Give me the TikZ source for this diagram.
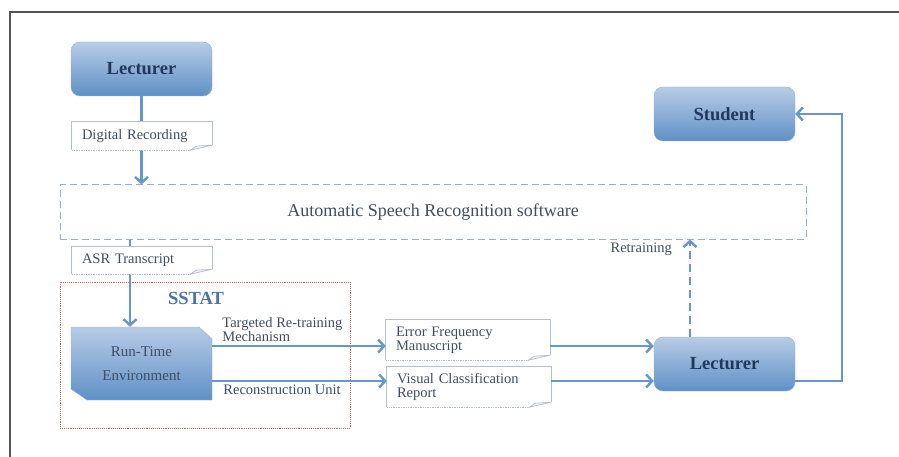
\documentclass[tikz,border=0pt]{standalone}
\usepackage{fontspec}
\setmainfont{Liberation Serif}
\usetikzlibrary{arrows.meta}
\definecolor{linkblue}{HTML}{6696CC}
\definecolor{boxtop}{HTML}{B8CCE6}
\definecolor{boxbot}{HTML}{5F90C6}
\definecolor{boxedge}{HTML}{8FB0D8}
\definecolor{labelgray}{HTML}{3F4D62}
\definecolor{navy}{HTML}{22385A}
\definecolor{notegray}{HTML}{B5BFCC}
\definecolor{sstatred}{HTML}{C96B6B}
\definecolor{titleblue}{HTML}{4B73A9}
\definecolor{framegray}{HTML}{555555}
\tikzstyle{actor} = [rectangle, rounded corners=9pt, draw=boxedge, top color=boxtop, bottom color=boxbot, minimum width=141pt, minimum height=54pt, font=\fontsize{18.5}{20}\selectfont\bfseries, text=navy]
\tikzstyle{notebox} = [rectangle, fill=white, inner xsep=10pt, text width=120pt, align=left, font=\fontsize{14.5}{14}\selectfont, text=labelgray]
\tikzstyle{lbl} = [font=\fontsize{14.5}{13}\selectfont, text=labelgray, align=left, inner sep=1pt]
\tikzstyle{arrow} = [line width=2.4pt, draw=linkblue, -{Straight Barb[length=6pt,width=13pt]}]

\begin{document}
\begin{tikzpicture}[x=1pt, y=-1pt]
        \useasboundingbox (0,0) rectangle (899,457);
        \draw[framegray, line width=2.2pt] (10,457) -- (10,12) -- (899,12);

        \node (lecA) [actor] at (141.5,69) {Lecturer};
        \node (student) [actor] at (724.5,114) {Student};
        \node (lecB) [actor] at (724.5,364) {Lecturer};
        \node (asr) [draw=boxedge, dash pattern=on 7pt off 4pt, line width=1pt, minimum width=746pt, minimum height=54pt, font=\fontsize{18}{20}\selectfont, text=labelgray] at (433,212) {Automatic Speech Recognition software};

        % SSTAT frame and the run-time block inside it
        \node (sstat) [draw=sstatred, densely dotted, line width=0.9pt, minimum width=290pt, minimum height=146pt] at (205,355) {};
        \node (sstatlbl) [font=\fontsize{18.5}{20}\selectfont\bfseries, text=titleblue] at (196,298) {SSTAT};
        \shade[top color=boxtop, bottom color=boxbot, draw=boxedge] (71,327) -- (199,327) -- (212,339) -- (212,400) -- (87,400) -- (71,389) -- cycle;
        \node (rte) [minimum width=141pt, minimum height=73pt, align=center, font=\fontsize{15}{24}\selectfont, text=labelgray] at (141.5,363.5) {Run-Time\\Environment};

        \draw [arrow] (lecA.south) -- (lecA.south |- asr.north);
        \path (rte.north) ++(-11.5,0) coordinate (tin);
        \draw [arrow] (tin |- asr.south) -- (tin);

        % notes sit on top of the lines running through them
        \node (digrec) [notebox, minimum height=28pt] at (142,136) {Digital Recording};
        \node (asrtr) [notebox, minimum height=27pt] at (142,260.5) {ASR Transcript};
        \node (errfreq) [notebox, text width=144pt, minimum height=40pt] at (468,340) {Error Frequency\\Manuscript};
        \node (visrep) [notebox, text width=144pt, minimum height=40pt] at (469,387) {Visual Classification\\Report};
        \foreach \n in {digrec, asrtr, errfreq, visrep} {
            \draw[notegray, line width=0.7pt] (\n.south west) -- (\n.north west) -- (\n.north east) -- ([yshift=5pt]\n.south east);
            \draw[notegray, line width=0.7pt, densely dotted] ([xshift=-22pt]\n.south east) -- (\n.south west);
            \draw[notegray, line width=0.7pt, fill=gray!8] ([xshift=-22pt]\n.south east) -- ([xshift=-16pt,yshift=4pt]\n.south east) -- ([yshift=5pt]\n.south east) -- cycle;
        }

        \path ([yshift=17.5pt]rte.east) coordinate (trg);
        \path ([yshift=-17.5pt]rte.east) coordinate (rec);
        \draw [arrow] (trg) -- node[lbl, pos=0, anchor=south west, xshift=8pt, yshift=2pt] {Targeted Re-training\\Mechanism} (trg -| errfreq.west);
        \draw [arrow] (rec) -- node[lbl, pos=0, anchor=north west, xshift=9pt, yshift=-2pt] {Reconstruction Unit} (rec -| visrep.west);
        \draw [arrow] (trg -| errfreq.east) -- (trg -| lecB.west);
        \draw [arrow] (rec -| visrep.east) -- (rec -| lecB.west);

        \draw [arrow] ([yshift=-17pt]lecB.east) -- ++(47,0) |- (student.east);
        \path ([xshift=-34.5pt]lecB.north) coordinate (rtr);
        \draw [arrow, dash pattern=on 8pt off 5pt] (rtr) -- node[lbl, pos=1, anchor=north east, xshift=-16pt, yshift=-1pt] {Retraining} (rtr |- asr.south);

    \end{tikzpicture}
\end{document}
